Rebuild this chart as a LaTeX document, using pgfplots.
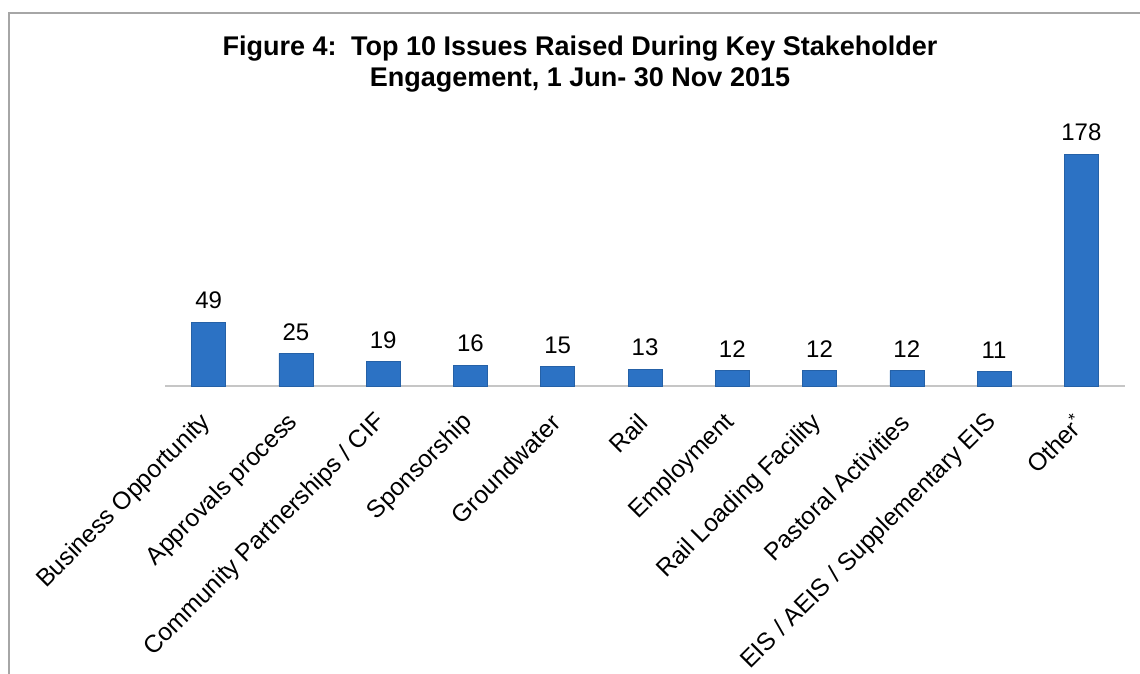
\documentclass[border=0pt]{standalone}
\usepackage{pgfplots}
\pgfplotsset{compat=1.18}
\usepackage{fontspec}
\setmainfont{Liberation Sans}
\definecolor{barblue}{RGB}{44,114,196}
\begin{document}
\begin{tikzpicture}
\useasboundingbox (0pt,0pt) rectangle (570pt,337pt);
\fill[white] (0pt,0pt) rectangle (570pt,337pt);
\draw[gray!70, line width=1.2pt] (4.5pt,-2pt) -- (4.5pt,330.5pt) -- (575pt,330.5pt);
\begin{axis}[
  at={(82.5pt,144pt)}, anchor=south west,
  scale only axis, width=480pt, height=130.3pt,
  xmin=-0.5, xmax=10.5, ymin=0, ymax=200,
  axis x line=bottom, axis y line=none,
  x axis line style={draw=gray!45, line width=0.8pt, -},
  major tick length=0pt,
  /pgf/number format/assume math mode=true,
  xtick=data,
  xticklabels={Business Opportunity, Approvals process, Community Partnerships / CIF, Sponsorship, Groundwater, Rail, Employment, Rail Loading Facility, Pastoral Activities, EIS / AEIS / Supplementary EIS, Other\textsuperscript{*}},
  xticklabel style={rotate=45, anchor=east, font=\fontsize{12.3}{14}\selectfont, inner sep=1pt, yshift=-11pt, xshift=-11pt},
  ybar, bar width=17pt,
  nodes near coords,
  nodes near coords style={font=\fontsize{12}{14}\selectfont, yshift=3pt},
  clip=false,
]
\addplot[fill=barblue, draw=barblue!85!black, line width=0.3pt] coordinates {
(0,49) (1,25) (2,19) (3,16) (4,15) (5,13) (6,12) (7,12) (8,12) (9,11) (10,178)};
\end{axis}
\node[font=\bfseries\fontsize{13.5}{15.5}\selectfont, align=center] at (290pt,305pt) {Figure 4:\, Top 10 Issues Raised During Key Stakeholder\\Engagement, 1 Jun- 30 Nov 2015};
\end{tikzpicture}
\end{document}
